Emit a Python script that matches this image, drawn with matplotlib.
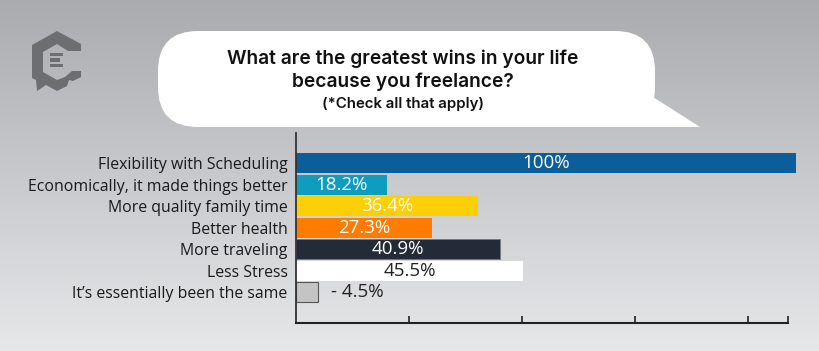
import numpy as np
import matplotlib
matplotlib.use("Agg")
import matplotlib.pyplot as plt
from matplotlib.patches import FancyBboxPatch, Polygon, Rectangle

categories = ["Flexibility with Scheduling", "Economically, it made things better",
              "More quality family time", "Better health", "More traveling",
              "Less Stress", "It\u2019s essentially been the same"]
values = [100, 18.2, 36.4, 27.3, 40.9, 45.5, 4.5]
value_labels = ["100%", "18.2%", "36.4%", "27.3%", "40.9%", "45.5%", "- 4.5%"]
bar_colors = ["#0b5e9a", "#0e9cbf", "#fccf06", "#ff7c00", "#232a38", "#ffffff", "#c4c4c4"]
label_colors = ["white", "white", "white", "white", "white", "#222222", "#222222"]
tick_positions = [22.6, 45.2, 67.8, 90.4, 98.4]

title_lines = ["What are the greatest wins in your life", "because you freelance?"]
subtitle = "(*Check all that apply)"

W, H = 820, 351
fig = plt.figure(figsize=(W / 100, H / 100), dpi=100)

# background gradient
bg = fig.add_axes([0, 0, 1, 1])
grad = np.linspace(0, 1, 256).reshape(-1, 1)
top = np.array([0.663, 0.671, 0.686])
bot = np.array([0.905, 0.908, 0.915])
img = top + (bot - top) * grad[:, :, None]
bg.imshow(img, aspect="auto", extent=[0, W, H, 0])
bg.set_xlim(0, W)
bg.set_ylim(H, 0)
bg.axis("off")

# speech bubble
bg.add_patch(FancyBboxPatch((158, 31), 497, 96, boxstyle="round,pad=0,rounding_size=40",
                            fc="white", ec="none", zorder=2))
bg.add_patch(Polygon([[615, 92], [653, 97], [700, 127], [615, 127]], closed=True,
                     fc="white", ec="none", zorder=2))
tfont = dict(family="Inter", weight="semibold", color="#111111", zorder=3,
             ha="center", va="center")
bg.text(403, 59, title_lines[0], fontsize=13.8, **tfont)
bg.text(403, 82, title_lines[1], fontsize=13.8, **tfont)
bg.text(403, 104, subtitle, fontsize=10.8, **tfont)

# logo
lc = "#6d6e70"
c_shape = [(81, 44), (57, 31), (32, 45), (32, 78), (36, 80), (37, 91), (46, 85),
           (57, 91), (67, 86), (69, 80), (73, 81), (81, 77), (81, 71), (72, 71),
           (65, 77), (57, 80), (43, 72), (43, 52), (57, 44), (68, 51), (81, 51)]
bg.add_patch(Polygon(c_shape, closed=True, fc=lc, ec="none", zorder=2))
for yy, x2 in [(54.5, 63), (60, 60), (65.5, 63)]:
    bg.add_patch(Rectangle((50, yy - 1.6), x2 - 50, 3.2, fc=lc, ec="none", zorder=2))

# chart axes
ax = fig.add_axes([296 / W, 28 / H, 500 / W, 190 / H])
ax.patch.set_alpha(0)
ypos = np.arange(len(categories))
bars = ax.barh(ypos, values, height=0.93, color=bar_colors, zorder=2)
bars[6].set_edgecolor("#555555")
bars[6].set_linewidth(0.8)
bars[4].set_edgecolor("#777777")
bars[4].set_linewidth(0.6)
ax.set_xlim(0, 100)
ax.set_ylim(7.44, -1.395)
ax.set_yticks(ypos)
ax.set_yticklabels(categories, fontsize=11.4, family="Open Sans", color="#1a1a1a")
ax.tick_params(axis="y", length=0, pad=6)
ax.set_xticks(tick_positions)
ax.set_xticklabels([])
ax.tick_params(axis="x", direction="in", length=5, width=1.2, color="#222222")
for s in ["top", "right"]:
    ax.spines[s].set_visible(False)
ax.spines["left"].set_color("#333333")
ax.spines["left"].set_linewidth(1.3)
ax.spines["bottom"].set_color("#222222")
ax.spines["bottom"].set_linewidth(1.5)
ax.spines["bottom"].set_bounds(0, 98.4)

for i, (v, lab, c) in enumerate(zip(values, value_labels, label_colors)):
    if i == len(values) - 1:
        ax.text(v + 2.5, i, lab, ha="left", va="center", fontsize=13.5,
                family="Open Sans", color=c, zorder=3)
    else:
        ax.text(v / 2, i, lab, ha="center", va="center", fontsize=13.5,
                family="Open Sans", color=c, zorder=3)

fig.savefig("out.png", dpi=100)
